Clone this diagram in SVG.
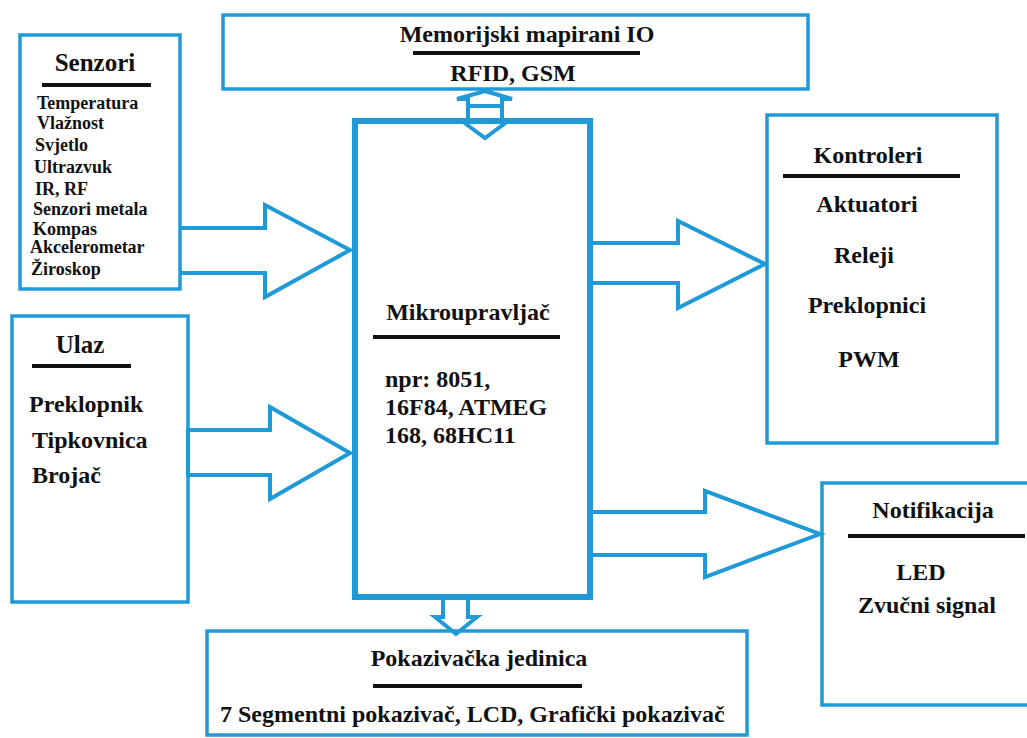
<svg xmlns="http://www.w3.org/2000/svg" width="1027" height="738" viewBox="0 0 1027 738">
<style>
.box{fill:none;stroke:#1f9ad6;stroke-width:3.5}
.mcu{fill:none;stroke:#1f9ad6;stroke-width:6}
.arr{fill:none;stroke:#1f9ad6;stroke-width:4;stroke-linejoin:miter}
.ul{stroke:#111;stroke-width:4}
text{font-family:"Liberation Serif","Times New Roman",serif;font-weight:bold;fill:#111}
.t{font-size:24px}
.c{text-anchor:middle}
.s{font-size:18px}
</style>
<rect width="1027" height="738" fill="#fff"/>
<g id="memorijski">
<rect class="box" x="223" y="15" width="585" height="74"/>
<text class="t c" x="527" y="42" font-size="22">Memorijski mapirani IO</text>
<line class="ul" x1="413" y1="53" x2="640" y2="53"/>
<text class="t c" x="513" y="81">RFID, GSM</text>
</g>
<g id="senzori">
<rect class="box" x="20" y="35" width="160" height="254"/>
<text class="t c" x="95" y="71" style="font-size:25px">Senzori</text>
<line class="ul" x1="42" y1="85" x2="151" y2="85"/>
<text class="s" x="37" y="109">Temperatura</text>
<text class="s" x="37" y="129">Vlažnost</text>
<text class="s" x="35" y="151">Svjetlo</text>
<text class="s" x="34" y="173">Ultrazvuk</text>
<text class="s" x="35" y="195">IR, RF</text>
<text class="s" x="33" y="215">Senzori metala</text>
<text class="s" x="33" y="235">Kompas</text>
<text class="s" x="30" y="253">Akcelerometar</text>
<text class="s" x="31" y="275">Žiroskop</text>
</g>
<g id="ulaz">
<rect class="box" x="12" y="316" width="176" height="286"/>
<text class="t c" x="80" y="353" style="font-size:25px">Ulaz</text>
<line class="ul" x1="32" y1="366" x2="131" y2="366"/>
<text class="t" x="29" y="412">Preklopnik</text>
<text class="t" x="32" y="448">Tipkovnica</text>
<text class="t" x="32" y="483">Brojač</text>
</g>
<g id="mikroupravljac">
<rect class="mcu" x="355" y="121" width="235" height="476"/>
<text class="t c" x="468" y="320">Mikroupravljač</text>
<line class="ul" x1="373" y1="337" x2="560" y2="337"/>
<text class="t" x="385" y="387">npr: 8051,</text>
<text class="t" x="385" y="415">16F84, ATMEG</text>
<text class="t" x="385" y="443">168, 68HC11</text>
</g>
<g id="kontroleri">
<rect class="box" x="767" y="115" width="230" height="328"/>
<text class="t c" x="868" y="163">Kontroleri</text>
<line class="ul" x1="783" y1="176" x2="960" y2="176"/>
<text class="t c" x="867" y="212">Aktuatori</text>
<text class="t c" x="864" y="263">Releji</text>
<text class="t c" x="867" y="313">Preklopnici</text>
<text class="t c" x="869" y="367">PWM</text>
</g>
<g id="notifikacija">
<rect class="box" x="822" y="483" width="215" height="222"/>
<text class="t c" x="933" y="518">Notifikacija</text>
<line class="ul" x1="848" y1="536" x2="1025" y2="536"/>
<text class="t c" x="921" y="580">LED</text>
<text class="t c" x="927" y="613">Zvučni signal</text>
</g>
<g id="pokazivacka">
<rect class="box" x="207" y="631" width="540" height="104"/>
<text class="t c" x="479" y="666">Pokazivačka jedinica</text>
<line class="ul" x1="373" y1="686" x2="582" y2="686"/>
<text class="t" x="220" y="722">7 Segmentni pokazivač, LCD, Grafički pokazivač</text>
</g>
<g id="connectors">
<polyline class="arr" points="180,228 265,228 265,205 350,250 265,297 265,273 180,273"/>
<polygon class="arr" points="188,430 270,430 270,407 350,453 270,499 270,475 188,475"/>
<polyline class="arr" points="590,243 678,243 678,221 765,264 678,308 678,283 590,283"/>
<polyline class="arr" points="590,512 705,512 705,491 820,534 705,577 705,555 590,555"/>
<polygon class="arr" points="485,91 512,99 502,99 502,121 508,121 485,138 462,121 468,121 468,99 457,99"/>
<line class="arr" x1="468" y1="106" x2="502" y2="106"/>
<polyline class="arr" points="443,597 443,617 435,617 456,634 477,617 468,617 468,597"/>
</g>
</svg>
